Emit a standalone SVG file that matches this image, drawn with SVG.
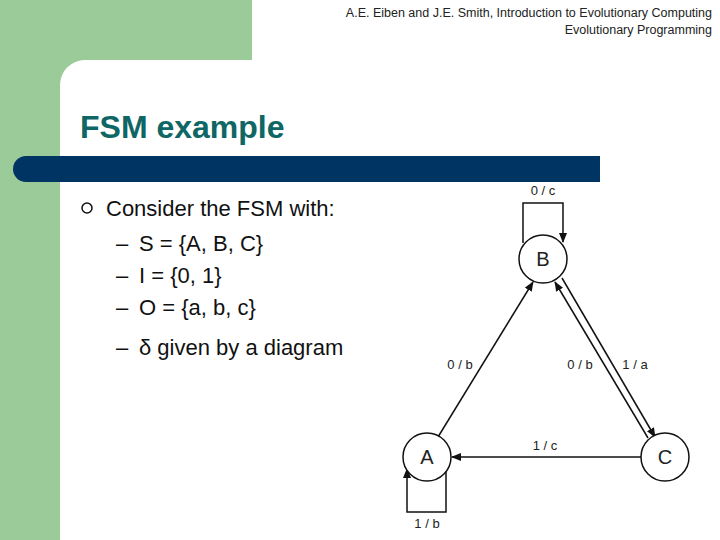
<svg xmlns="http://www.w3.org/2000/svg" width="720" height="540" viewBox="0 0 720 540">
<style>
.lbl{font-family:"Liberation Sans",Arial,sans-serif;font-size:13px;fill:#222;text-anchor:middle}
.st{font-family:"Liberation Sans",Arial,sans-serif;font-size:20px;fill:#222;text-anchor:middle}
.ln{stroke:#111;stroke-width:1.5;fill:none}
.body{font-family:"Liberation Sans",Arial,sans-serif;font-size:22px;fill:#111}
circle{fill:#fff;stroke:#111;stroke-width:1.5}
</style>
<defs><marker id="ah" markerWidth="10" markerHeight="8" refX="9" refY="4" orient="auto" markerUnits="userSpaceOnUse"><path d="M0,0 L10,4 L0,8 Z" fill="#111"/></marker></defs>
<rect width="720" height="540" fill="#fff"/>
<rect x="0" y="0" width="252" height="60" fill="#9ccb9a"/>
<rect x="0" y="0" width="60" height="540" fill="#9ccb9a"/>
<path d="M60,85 A25,25 0 0 1 85,60 L60,60 Z" fill="#9ccb9a"/>
<text x="712" y="17" font-family="'Liberation Sans',Arial,sans-serif" font-size="12.5" text-anchor="end" fill="#222">A.E. Eiben and J.E. Smith, Introduction to Evolutionary Computing</text>
<text x="712" y="34" font-family="'Liberation Sans',Arial,sans-serif" font-size="12.5" text-anchor="end" fill="#222">Evolutionary Programming</text>
<text x="80" y="138" font-family="'Liberation Sans',Arial,sans-serif" font-size="32" font-weight="bold" fill="#0e6665">FSM example</text>
<path d="M26,156 L600,156 L600,182 L26,182 A13,13 0 0 1 26,156 Z" fill="#003463"/>
<circle cx="87" cy="208" r="5" fill="#111" stroke="none"/>
<text x="106" y="216" class="body">Consider the FSM with:</text>
<text x="116" y="251" class="body">–</text><text x="139" y="251" class="body">S = {A, B, C}</text>
<text x="116" y="283" class="body">–</text><text x="139" y="283" class="body">I = {0, 1}</text>
<text x="116" y="315" class="body">–</text><text x="139" y="315" class="body">O = {a, b, c}</text>
<text x="116" y="355" class="body">–</text><text x="139" y="355" class="body">δ given by a diagram</text>
<g id="connectors">
<path class="ln" d="M523,243 L523,203 L563,203 L563,242" marker-end="url(#ah)"/>
<path class="ln" d="M446,467 L446,512 L407,512 L407,469" marker-end="url(#ah)"/>
<path class="ln" d="M438,437 L533,282" marker-end="url(#ah)"/>
<path class="ln" d="M562,278 L655,437" marker-end="url(#ah)"/>
<path class="ln" d="M648,438 L555,282" marker-end="url(#ah)"/>
<path class="ln" d="M641,457 L452,457" marker-end="url(#ah)"/>
<text x="543" y="195" class="lbl">0 / c</text>
<text x="460" y="369" class="lbl">0 / b</text>
<text x="580" y="369" class="lbl">0 / b</text>
<text x="635" y="369" class="lbl">1 / a</text>
<text x="545" y="450" class="lbl">1 / c</text>
<text x="427" y="528" class="lbl">1 / b</text>
</g>
<g id="B"><circle cx="543" cy="259" r="24"/><text x="543" y="266" class="st">B</text></g>
<g id="A"><circle cx="427" cy="457" r="24"/><text x="427" y="464" class="st">A</text></g>
<g id="C"><circle cx="665" cy="457" r="24"/><text x="665" y="464" class="st">C</text></g>
</svg>
